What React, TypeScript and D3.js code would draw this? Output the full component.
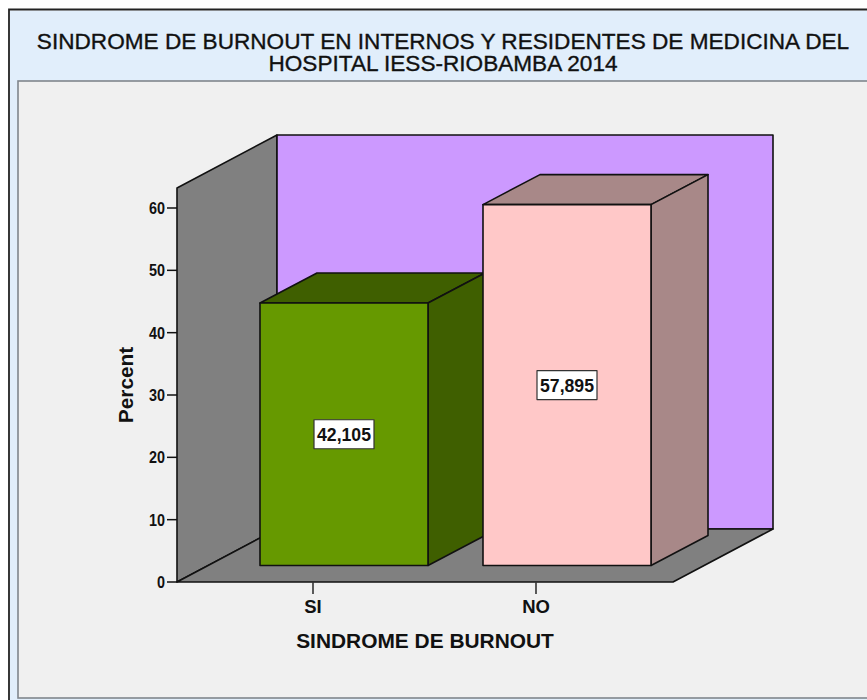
import React from "react";
import * as d3 from "d3";

const categories = ["SI", "NO"];
const percents = [42.105, 57.895];
const valueLabels = ["42,105", "57,895"];
const yTicks = [0, 10, 20, 30, 40, 50, 60];
const titleLines = [
  "SINDROME DE BURNOUT EN INTERNOS Y RESIDENTES DE MEDICINA DEL",
  "HOSPITAL IESS-RIOBAMBA 2014",
];
const frontColors = ["#669900", "#FFC8C8"];
const shadeColors = ["#3F5F00", "#A88888"];

const FONT = "'Liberation Sans', Arial, sans-serif";
const INK = "#111";

const y = d3.scaleLinear().domain([0, 60]).range([582, 208]);
const yTop = y.invert(188);
const xBand = d3.scaleBand<string>().domain(categories).range([201.5, 647.5]).paddingInner(0.2466).paddingOuter(0.1233);
const floorLeft = 177;
const floorRight = 673;
const depth = { dx: 100, dy: -53 };
const barOffset = { dx: 31, dy: -16.5 };
const barDepth = { dx: 57, dy: -30 };
const line = d3.line<[number, number]>();
const poly = (pts: [number, number][]) => line(pts) + "Z";

export default function App() {
  const y0 = y(0);
  const yT = y(yTop);
  return (
    <svg width={867} height={700} style={{ position: "absolute", left: 0, top: 0, display: "block" }} fontFamily={FONT}>
      <rect x={0} y={0} width={867} height={700} fill="#fff" />
      <rect x={10} y={10.5} width={857} height={690} fill="#E1EEFB" />
      <path d="M867.5,9.5H9V700.5" fill="none" stroke="#222" strokeWidth={1.8} />
      <rect x={18} y={81} width={850} height={617} fill="#F0F0F0" stroke="#80868c" strokeWidth={1.6} />
      {titleLines.map((t, i) => (
        <text key={t} x={443} y={49 + i * 21.5} textAnchor="middle" fontSize={22.6} fill="#111" stroke="#111" strokeWidth={0.35}>{t}</text>
      ))}

      {/* left wall */}
      <path d={poly([[floorLeft, y0], [floorLeft, yT], [floorLeft + depth.dx, yT + depth.dy], [floorLeft + depth.dx, y0 + depth.dy]])} fill="#808080" stroke={INK} strokeWidth={1.6} strokeLinejoin="round" />
      {/* back wall */}
      <path d={poly([[floorLeft + depth.dx, y0 + depth.dy], [floorLeft + depth.dx, yT + depth.dy], [floorRight + depth.dx, yT + depth.dy], [floorRight + depth.dx, y0 + depth.dy]])} fill="#CC99FF" stroke={INK} strokeWidth={1.6} strokeLinejoin="round" />
      {/* floor */}
      <path d={poly([[floorLeft, y0], [floorRight, y0], [floorRight + depth.dx, y0 + depth.dy], [floorLeft + depth.dx, y0 + depth.dy]])} fill="#808080" stroke={INK} strokeWidth={1.6} strokeLinejoin="round" />

      {/* axis ticks */}
      {yTicks.map((t) => (
        <g key={t}>
          <line x1={167} x2={floorLeft} y1={y(t)} y2={y(t)} stroke={INK} strokeWidth={1.5} />
          <text x={165} y={y(t) + 6} textAnchor="end" fontSize={16.5} fontWeight="bold" fill="#111" textLength={String(t).length * 8} lengthAdjust="spacingAndGlyphs">{t}</text>
        </g>
      ))}
      {categories.map((c) => {
        const cx = xBand(c)! + xBand.bandwidth() / 2;
        return (
          <g key={c}>
            <line x1={cx} x2={cx} y1={y0} y2={y0 + 12} stroke="#333" strokeWidth={1.6} />
            <text x={cx} y={613} textAnchor="middle" fontSize={18.5} fontWeight="bold" fill="#111">{c}</text>
          </g>
        );
      })}

      {/* bars */}
      {categories.map((c, i) => {
        const x0 = xBand(c)! + barOffset.dx;
        const x1 = x0 + xBand.bandwidth();
        const base = y0 + barOffset.dy;
        const top = base - (y0 - y(percents[i]));
        const b = barDepth;
        const cx = (x0 + x1) / 2;
        const cy = (top + base) / 2;
        return (
          <g key={c} stroke={INK} strokeWidth={1.6} strokeLinejoin="round">
            <path d={poly([[x0, top], [x1, top], [x1 + b.dx, top + b.dy], [x0 + b.dx, top + b.dy]])} fill={shadeColors[i]} />
            <path d={poly([[x1, top], [x1 + b.dx, top + b.dy], [x1 + b.dx, base + b.dy], [x1, base]])} fill={shadeColors[i]} />
            <rect x={x0} y={top} width={x1 - x0} height={base - top} fill={frontColors[i]} />
            <rect x={cx - 30} y={cy - 14.5} width={60} height={29} fill="#fff" stroke="#333" strokeWidth={1.2} />
            <text x={cx} y={cy + 7} textAnchor="middle" fontSize={18} fontWeight="bold" fill="#111" stroke="none" textLength={54} lengthAdjust="spacingAndGlyphs">{valueLabels[i]}</text>
          </g>
        );
      })}

      <text transform="translate(133,385) rotate(-90)" textAnchor="middle" fontSize={20.8} fontWeight="bold" fill="#111">Percent</text>
      <text x={425} y={648} textAnchor="middle" fontSize={20.9} fontWeight="bold" fill="#111">SINDROME DE BURNOUT</text>
    </svg>
  );
}
